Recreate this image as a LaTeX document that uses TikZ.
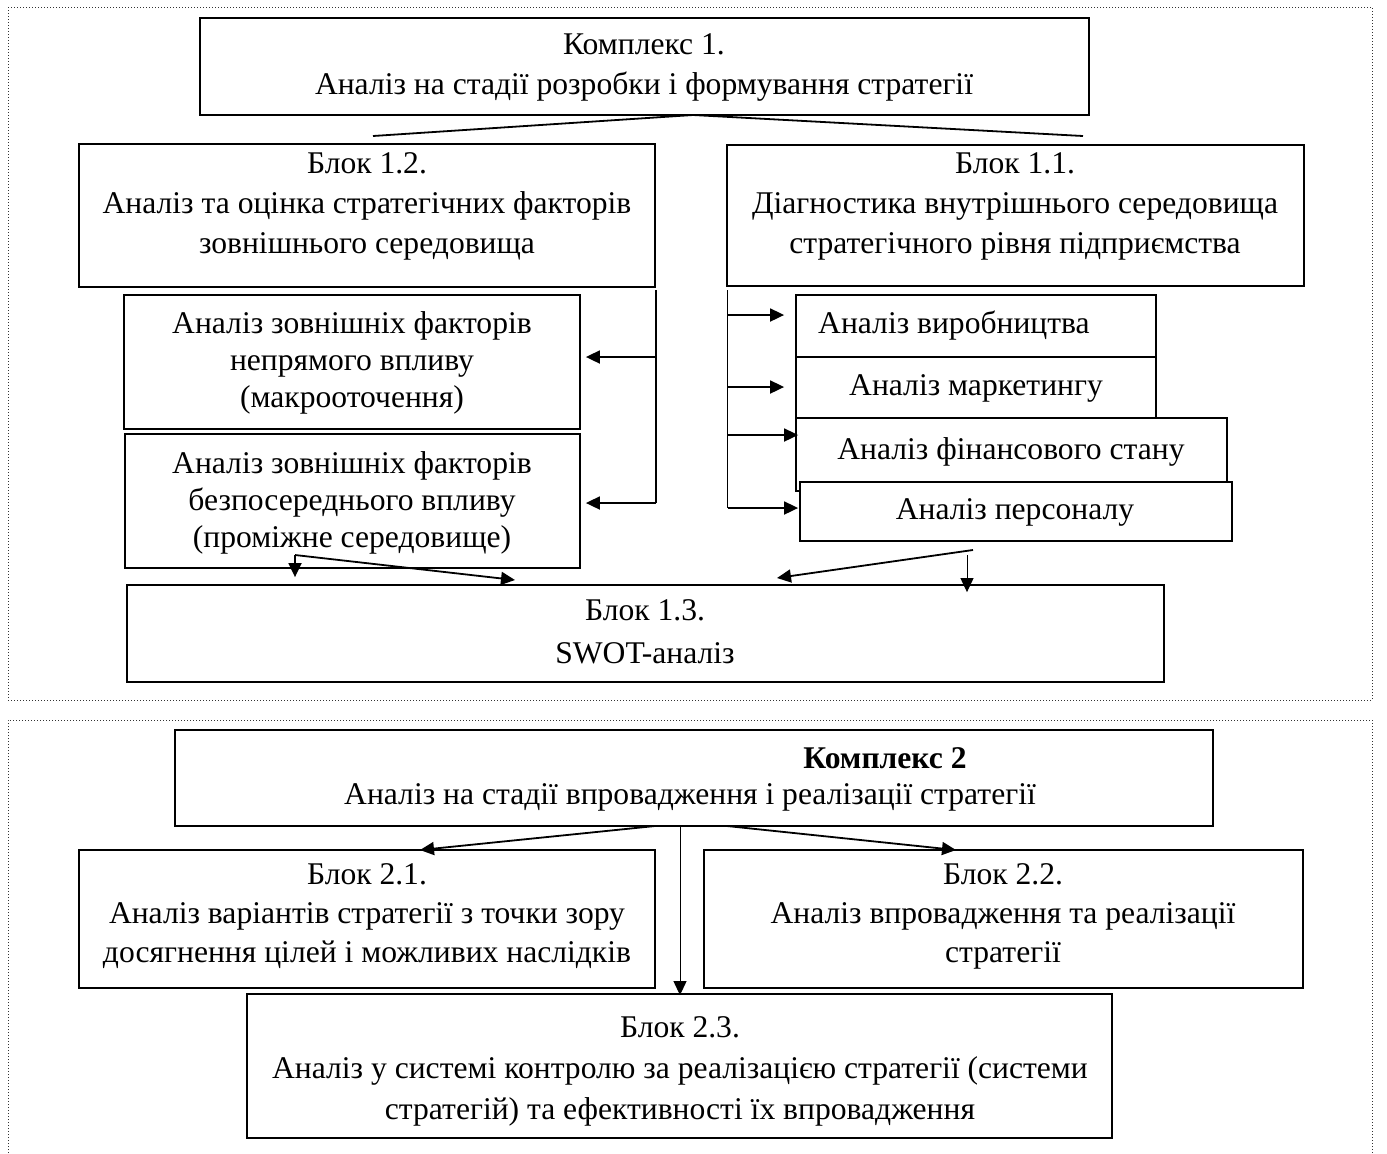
\documentclass[tikz,border=0pt]{standalone}
\usepackage{fontspec}
\setmainfont{Liberation Serif}
\usetikzlibrary{arrows.meta,fit,calc}
\begin{document}
\begin{tikzpicture}[x=0.5pt,y=-0.5pt,
  box/.style={draw, line width=0.9pt, inner sep=0pt, fill=white},
  txt/.style={align=center, inner sep=0pt, font=\fontsize{15.8}{20}\selectfont},
  txtA/.style={align=center, inner sep=0pt, font=\fontsize{15.8}{18.5}\selectfont},
  txtS/.style={align=center, inner sep=0pt, font=\fontsize{15.8}{21.5}\selectfont},
  ln/.style={line width=0.9pt},
  arr/.style={line width=0.9pt, -{Triangle[length=7pt,width=6.5pt]}},
  thinarr/.style={line width=0.5pt, -{Triangle[length=7pt,width=6.5pt]}},
  frame/.style={black!80, line width=0.5pt, dash pattern=on 0.5pt off 1pt}]
\useasboundingbox (0,0) rectangle (1387,1153);
% frames
\draw[frame] (8,7) rectangle (1372,700);
\draw[frame] (8,1153) -- (8,720) -- (1372,720) -- (1372,1153);
% Complex 1
\node[box, fit={(200,18) (1089,115)}] (k1) {};
\node[txt] (k1t) at (644,67) {Комплекс 1.\\Аналіз на стадії розробки і формування стратегії};
\node[box, fit={(79,144) (655,287)}] (b12) {};
\node[txt] (b12t) at (367,206) {Блок 1.2.\\Аналіз та оцінка стратегічних факторів\\зовнішнього середовища};
\node[box, fit={(727,145) (1304,286)}] (b11) {};
\node[txt] (b11t) at (1015,206) {Блок 1.1.\\Діагностика внутрішнього середовища\\стратегічного рівня підприємства};
\node[box, fit={(124,295) (580,429)}] (ba) {};
\node[txtA] (bat) at (352,363) {Аналіз зовнішніх факторів\\непрямого впливу\\(макрооточення)};
\node[box, fit={(125,434) (580,568)}] (bb) {};
\node[txtA] (bbt) at (352,503) {Аналіз зовнішніх факторів\\безпосереднього впливу\\(проміжне середовище)};
\node[box, fit={(796,295) (1156,357)}] (prod) {};
\node[txt] (prodt) at (954,326) {Аналіз виробництва};
\node[box, fit={(796,357) (1156,418)}] (mark) {};
\node[txt] (markt) at (976,388) {Аналіз маркетингу};
\node[box, fit={(796,418) (1227,491)}] (fin) {};
\node[txt] (fint) at (1011,452) {Аналіз фінансового стану};
\node[box, fit={(800,482) (1232,541)}] (pers) {};
\node[txt] (perst) at (1015,512) {Аналіз персоналу};
\node[box, fit={(127,585) (1164,682)}] (swot) {};
\node[txtS] (swott) at (645,632) {Блок 1.3.\\SWOT-аналіз};
% connectors top
\coordinate (apex) at (693,115);
\coordinate (e12) at (373,136);
\coordinate (e11) at (1083,136);
\draw[ln] (e12) -- (apex) -- (e11);
\coordinate (L0) at (656,290);
\coordinate (L1) at (656,357);
\coordinate (L2) at (656,503);
\draw[ln] (L0) -- (L2);
\draw[arr, shorten >=2.5pt] (L1) -- (L1 -| ba.east);
\draw[arr, shorten >=2.5pt] (L2) -- (L2 -| bb.east);
\coordinate (R0) at (727.5,290);
\coordinate (R1) at (727.5,315);
\coordinate (R2) at (727.5,387);
\coordinate (R3) at (727.5,435);
\coordinate (R4) at (727.5,508);
\draw[ln] (R0) -- (R4);
\draw[arr, shorten >=5.5pt] (R1) -- (R1 -| prod.west);
\draw[arr, shorten >=5.5pt] (R2) -- (R2 -| mark.west);
\draw[arr, shorten >=-1.5pt] (R3) -- (R3 -| fin.west);
\draw[arr, shorten >=0.5pt] (R4) -- (R4 -| pers.west);
\coordinate (s1) at (295,555);
\coordinate (t1) at (515,580);
\draw[arr, shorten >=3.5pt] (s1) -- (s1 |- swot.north);
\draw[arr] (s1) -- (t1);
\coordinate (s2) at (973,550);
\coordinate (t2) at (777,578);
\draw[arr] (s2) -- (t2);
\coordinate (s3) at (967,555);
\draw[thinarr, shorten >=-4pt] (s3) -- (s3 |- swot.north);
% Complex 2
\node[box, fit={(175,730) (1213,826)}] (k2) {};
\node[txt, font=\fontsize{15.8}{20}\selectfont\bfseries] (k2h) at (885,758) {Комплекс 2};
\node[txt] (k2t) at (690,797) {Аналіз на стадії впровадження і реалізації стратегії};
\node[box, fit={(79,850) (655,988)}] (b21) {};
\node[txtS, font=\fontsize{15.8}{19.5}\selectfont] (b21t) at (367,916) {Блок 2.1.\\Аналіз варіантів стратегії з точки зору\\досягнення цілей і можливих наслідків};
\node[box, fit={(704,850) (1303,988)}] (b22) {};
\node[txtS, font=\fontsize{15.8}{19.5}\selectfont] (b22t) at (1003,916) {Блок 2.2.\\Аналіз впровадження та реалізації\\стратегії};
\node[box, fit={(247,994) (1112,1138)}] (b23) {};
\node[txt, font=\fontsize{15.8}{20.5}\selectfont] (b23t) at (680,1071) {Блок 2.3.\\Аналіз у системі контролю за реалізацією стратегії (системи\\стратегій) та ефективності їх впровадження};
\coordinate (k2a) at (655,826);
\coordinate (k2b) at (727,826);
\coordinate (k2c) at (680,826);
\coordinate (t3) at (420,850);
\coordinate (t4) at (956,850);
\draw[arr] (k2a) -- (t3);
\draw[arr] (k2b) -- (t4);
\draw[thinarr, shorten >=-1pt] (k2c) -- (k2c |- b23.north);
\end{tikzpicture}
\end{document}
